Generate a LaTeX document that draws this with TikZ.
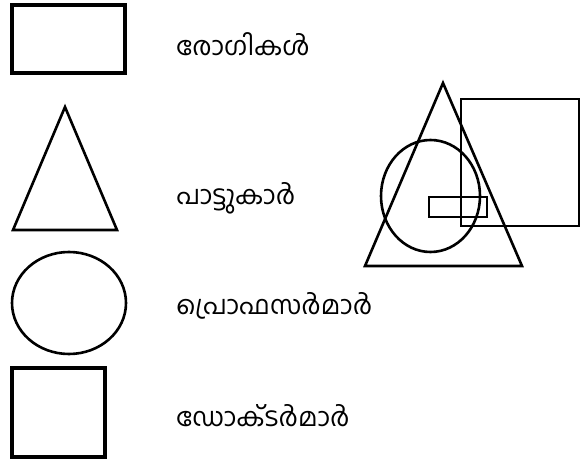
\documentclass[tikz,border=0pt]{standalone}
\usepackage{fontspec}
\newfontfamily\mlfont[Script=Malayalam]{Hind Kochi}
\usetikzlibrary{positioning}

\begin{document}
\begin{tikzpicture}[x=1bp,y=-1bp,line width=2.6bp,
  lbl/.style={anchor=west,inner sep=0pt,font=\mlfont\fontsize{26}{31}\selectfont}]

\useasboundingbox (0,0) rectangle (584,459);

% Legend shapes
\draw[line width=3.3bp] (12,5) rectangle (125,73);
\draw (65,107) -- (117,230) -- (13,230) -- cycle;
\draw (69,303) ellipse [x radius=57, y radius=51];
\draw[line width=3.3bp] (12,368) rectangle (105,457);

% Labels
\node[lbl] (rogikal) at (175,44) {രോഗികൾ};
\node[lbl] (pattukar) at (175,198) {പാട്ടുകാർ};
\node[lbl] (profsr) at (175,306) {പ്രൊഫസർമാർ};
\node[lbl] (doktr) at (175,416) {ഡോക്ടർമാർ};

% Overlapping sets
\draw (443,83) -- (522,266) -- (365,266) -- cycle;
\draw (461,99) rectangle (579,226);
\draw (430.5,196) ellipse [x radius=49.5, y radius=56];
\draw (429,197) rectangle (487,217);

\end{tikzpicture}
\end{document}
